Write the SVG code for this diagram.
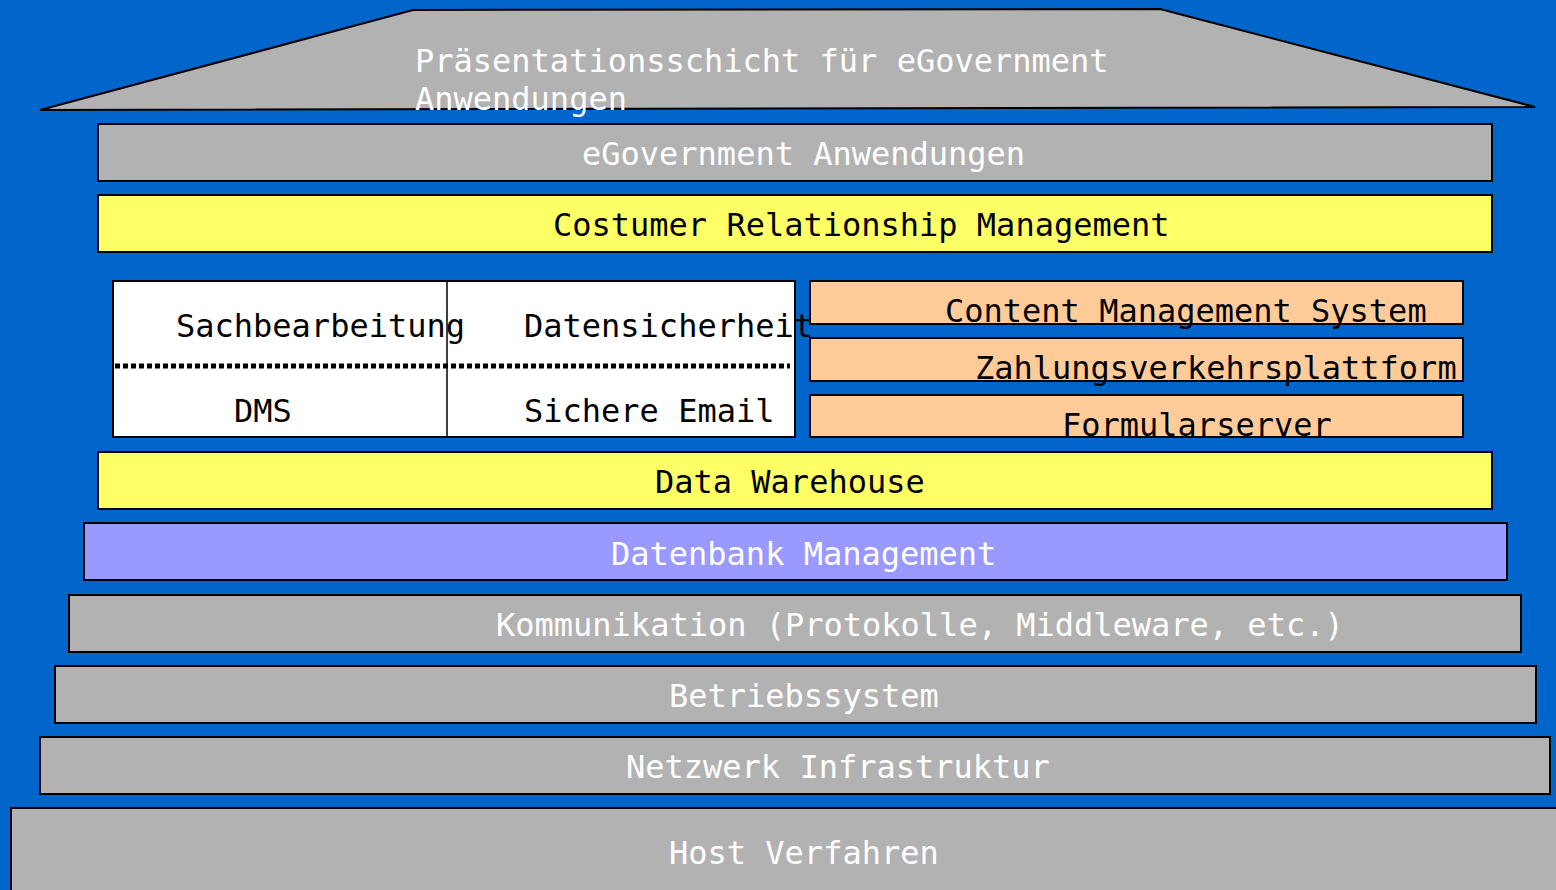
<svg xmlns="http://www.w3.org/2000/svg" width="1556" height="890" viewBox="0 0 1556 890">
<style>
.box{stroke:#000;stroke-width:2}
.gray{fill:#b2b2b2}
.yel{fill:#ffff66}
.org{fill:#ffcc99}
.pur{fill:#9999ff}
.wht{fill:#fff}
text{font-family:"DejaVu Sans Mono","Liberation Mono",monospace;font-size:32px}
.tw{fill:#fff}
.tb{fill:#000}
</style>
<rect x="0" y="0" width="1556" height="890" fill="#0066cc"/>
<g id="praesentation">
<polygon class="box gray" points="413,10 1160,9 1535,107 40,110"/>
<text class="tw" x="415" y="72">Präsentationsschicht für eGovernment</text>
<text class="tw" x="415" y="110">Anwendungen</text>
</g>
<g id="egov">
<rect class="box gray" x="98" y="124" width="1394" height="57"/>
<text class="tw" x="582" y="165">eGovernment Anwendungen</text>
</g>
<g id="crm">
<rect class="box yel" x="98" y="195" width="1394" height="57"/>
<text class="tb" x="553" y="236">Costumer Relationship Management</text>
</g>
<g id="dienste">
<rect class="box wht" x="113" y="281" width="682" height="156"/>
<line x1="447" y1="281" x2="447" y2="437" stroke="#000" stroke-width="1.5"/>
<line x1="115" y1="366" x2="790" y2="366" stroke="#000" stroke-width="5" stroke-dasharray="5 3"/>
<text class="tb" x="176" y="337">Sachbearbeitung</text>
<text class="tb" x="524" y="337">Datensicherheit</text>
<text class="tb" x="234" y="422">DMS</text>
<text class="tb" x="524" y="422">Sichere Email</text>
</g>
<g id="cms">
<rect class="box org" x="810" y="281" width="653" height="43"/>
<text class="tb" x="945" y="322">Content Management System</text>
</g>
<g id="zahlung">
<rect class="box org" x="810" y="338" width="653" height="43"/>
<text class="tb" x="975" y="379">Zahlungsverkehrsplattform</text>
</g>
<g id="formular">
<rect class="box org" x="810" y="395" width="653" height="42"/>
<text class="tb" x="1062" y="436">Formularserver</text>
</g>
<g id="dwh">
<rect class="box yel" x="98" y="452" width="1394" height="57"/>
<text class="tb" x="655" y="493">Data Warehouse</text>
</g>
<g id="dbm">
<rect class="box pur" x="84" y="523" width="1423" height="57"/>
<text class="tw" x="611" y="565">Datenbank Management</text>
</g>
<g id="komm">
<rect class="box gray" x="69" y="595" width="1452" height="57"/>
<text class="tw" x="496" y="636">Kommunikation (Protokolle, Middleware, etc.)</text>
</g>
<g id="bs">
<rect class="box gray" x="55" y="666" width="1481" height="57"/>
<text class="tw" x="669" y="707">Betriebssystem</text>
</g>
<g id="netz">
<rect class="box gray" x="40" y="737" width="1510" height="57"/>
<text class="tw" x="626" y="778">Netzwerk Infrastruktur</text>
</g>
<g id="host">
<rect class="box gray" x="11" y="808" width="1560" height="100"/>
<text class="tw" x="669" y="864">Host Verfahren</text>
</g>
<g id="connectors"/>
</svg>
